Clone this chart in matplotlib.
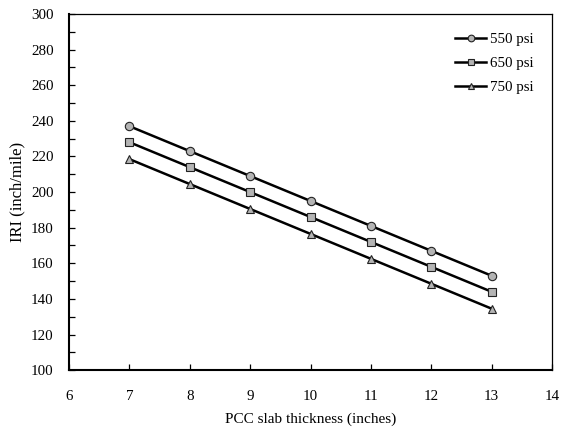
import matplotlib
matplotlib.use("Agg")
import matplotlib.pyplot as plt
from matplotlib.ticker import MultipleLocator

plt.rcParams['font.family'] = ['Liberation Serif', 'DejaVu Serif']

thickness = [7, 8, 9, 10, 11, 12, 13]
iri_550 = [237, 223, 209, 195, 181, 167, 153]
iri_650 = [228, 214, 200, 186, 172, 158, 144]
iri_750 = [218.5, 204.5, 190.5, 176.5, 162.5, 148.5, 134.5]
labels = ['550 psi', '650 psi', '750 psi']
markers = ['o', 's', '^']

fig = plt.figure(figsize=(5.61, 4.38), dpi=100)
ax = fig.add_axes([0.123, 0.155, 0.861, 0.813])

for y, lab, m in zip([iri_550, iri_650, iri_750], labels, markers):
    ax.plot(thickness, y, color='black', lw=1.8, marker=m, markersize=6,
            markerfacecolor='#b4b4b4', markeredgecolor='#222222', markeredgewidth=0.8,
            label=lab)

ax.set_xlim(6, 14)
ax.set_ylim(100, 300)
ax.xaxis.set_major_locator(MultipleLocator(1))
ax.yaxis.set_major_locator(MultipleLocator(20))
ax.yaxis.set_minor_locator(MultipleLocator(10))
ax.tick_params(which='both', direction='in', labelsize=10.8, width=0.9)
ax.tick_params(which='major', length=4)
ax.tick_params(which='minor', length=4)
ax.tick_params(axis='x', pad=14)
ax.tick_params(axis='y', pad=11)
ax.spines['left'].set_linewidth(1.5)
ax.spines['bottom'].set_linewidth(1.5)
ax.spines['top'].set_linewidth(0.9)
ax.spines['right'].set_linewidth(0.9)

ax.set_xlabel('PCC slab thickness (inches)', fontsize=11, labelpad=7)
ax.set_ylabel('IRI (inch/mile)', fontsize=12, labelpad=4)

ax.legend(loc='upper right', frameon=False, fontsize=10.8, handlelength=2.1,
          handletextpad=0.25, labelspacing=0.7, markerscale=0.8,
          bbox_to_anchor=(0.99, 0.985))

fig.savefig('out.png', dpi=100)
